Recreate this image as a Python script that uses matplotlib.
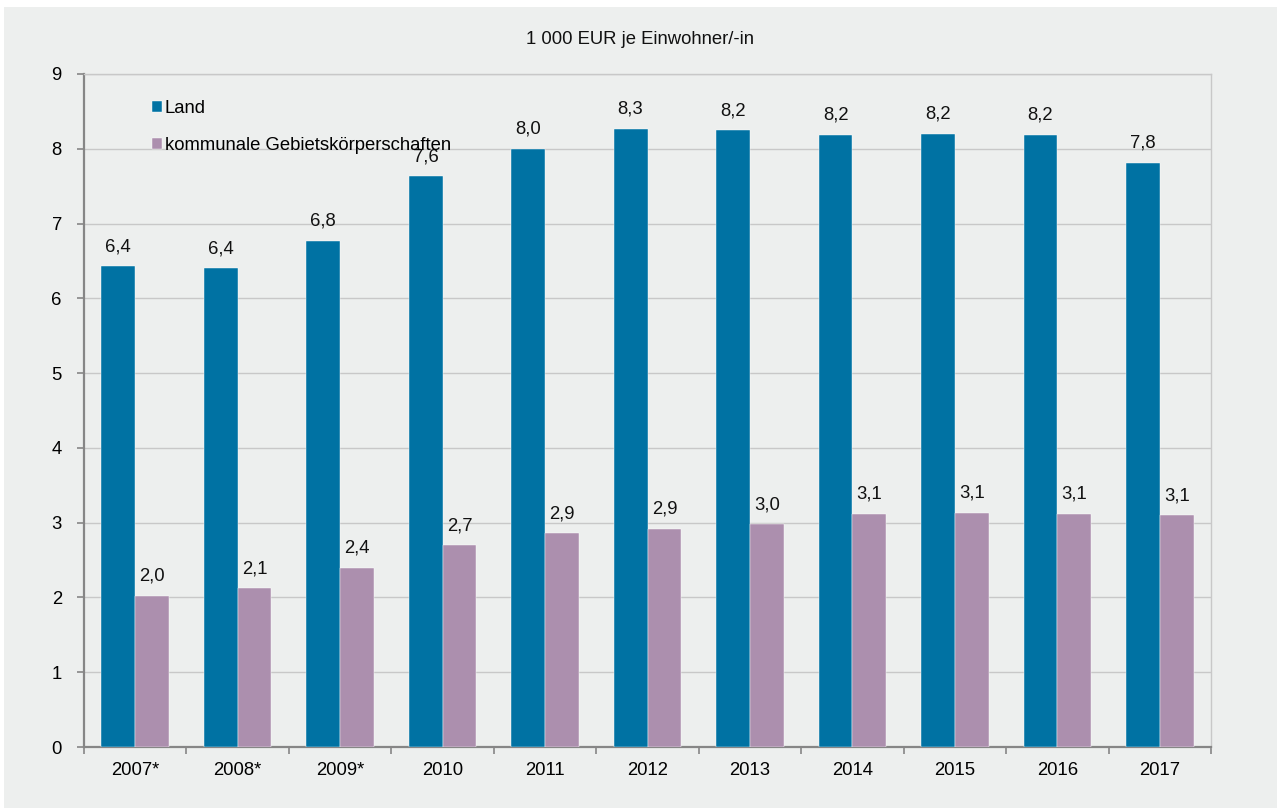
import matplotlib
matplotlib.use("Agg")
import matplotlib.pyplot as plt
import numpy as np
from matplotlib.patches import Rectangle

plt.rcParams['font.family'] = ['Liberation Sans', 'DejaVu Sans']

years = ["2007*", "2008*", "2009*", "2010", "2011", "2012", "2013", "2014", "2015", "2016", "2017"]
land = [6.43, 6.40, 6.77, 7.63, 8.00, 8.27, 8.25, 8.19, 8.20, 8.19, 7.81]
kommunal = [2.02, 2.12, 2.40, 2.70, 2.86, 2.92, 2.98, 3.12, 3.13, 3.12, 3.10]
land_labels = ["6,4", "6,4", "6,8", "7,6", "8,0", "8,3", "8,2", "8,2", "8,2", "8,2", "7,8"]
kommunal_labels = ["2,0", "2,1", "2,4", "2,7", "2,9", "2,9", "3,0", "3,1", "3,1", "3,1", "3,1"]
series_names = ["Land", "kommunale Gebietskörperschaften"]
title = "1 000 EUR je Einwohner/-in"

c_land = "#0072a3"
c_komm = "#ac8fae"
bg = "#edefee"
fs = 13.3

W, H = 1279, 809
fig = plt.figure(figsize=(W / 100, H / 100), dpi=100)
fig.patch.set_facecolor("white")
fig.patches.append(Rectangle((4 / W, 1 / H), (1277 - 4) / W, (802 - 1) / H,
                             transform=fig.transFigure, facecolor=bg, edgecolor="none", zorder=-10))

ax = fig.add_axes([84 / W, (H - 747) / H, (1211 - 84) / W, (747 - 74) / H])
ax.set_facecolor(bg)

x = np.arange(len(years))
bw = 0.33
b1 = ax.bar(x - bw / 2, land, bw, color=c_land, edgecolor="#ffffff", linewidth=0.3, label=series_names[0], zorder=3)
b2 = ax.bar(x + bw / 2, kommunal, bw, color=c_komm, edgecolor="#ffffff", linewidth=0.3, label=series_names[1], zorder=3)

for xi, v, lab in zip(x, land, land_labels):
    ax.annotate(lab, (xi - bw / 2, v), xytext=(0, 10.8), textcoords="offset points",
                ha="center", va="baseline", fontsize=fs, color="#111111", zorder=5)
for xi, v, lab in zip(x, kommunal, kommunal_labels):
    ax.annotate(lab, (xi + bw / 2, v), xytext=(0, 10.8), textcoords="offset points",
                ha="center", va="baseline", fontsize=fs, color="#111111", zorder=5)

ax.set_xlim(-0.5, len(years) - 0.5)
ax.set_ylim(0, 9)
ax.set_yticks(range(0, 10))
ax.yaxis.grid(True, color="#c8c8c8", linewidth=1.0, zorder=0)
ax.set_axisbelow(True)

ax.set_xticks(x)
ax.set_xticklabels(years)
ax.set_xticks(np.arange(-0.5, len(years)), minor=True)
ax.tick_params(axis="x", which="major", length=0, pad=10.5, labelsize=fs)
ax.tick_params(axis="x", which="minor", length=5, width=1.2, color="#868686", direction="out")
ax.tick_params(axis="y", length=5, width=1.2, color="#868686", pad=11, labelsize=fs)

for s in ["left", "bottom"]:
    ax.spines[s].set_color("#868686")
    ax.spines[s].set_linewidth(1.6)
for s in ["top", "right"]:
    ax.spines[s].set_color("#c8c8c8")
    ax.spines[s].set_linewidth(1.0)

fig.text(0.5, 1 - 40 / H, title, ha="center", va="center", fontsize=fs, color="#111111")

ax.legend(loc="upper left", bbox_to_anchor=(152 / W, 1 - 100 / H), bbox_transform=fig.transFigure,
          frameon=False, fontsize=fs, handlelength=0.55, handleheight=0.55, handletextpad=0.15,
          labelspacing=1.07, borderpad=0, borderaxespad=0)

fig.savefig("out.png", dpi=100, facecolor=fig.get_facecolor())
